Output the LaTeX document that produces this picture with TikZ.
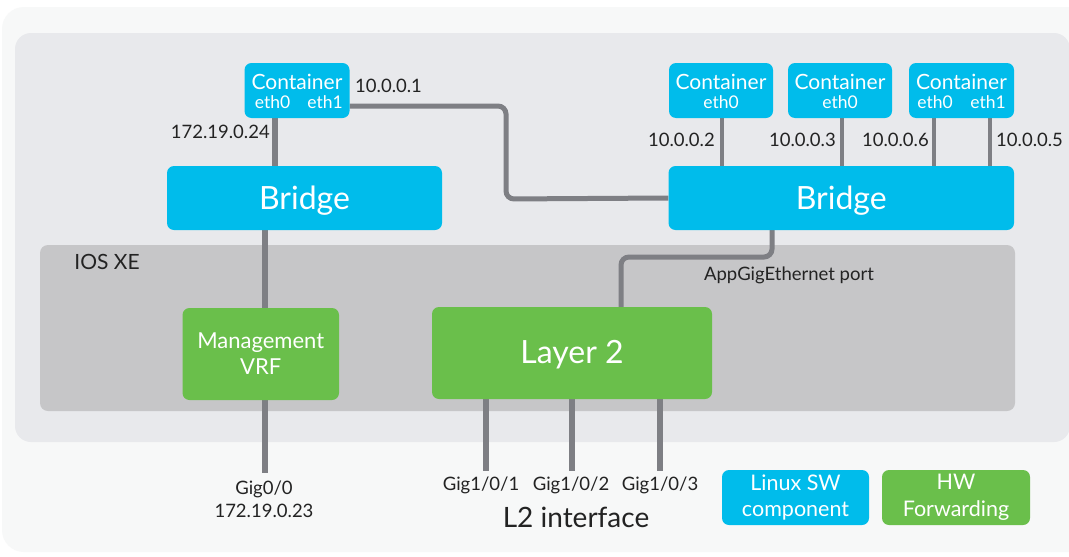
\documentclass[tikz,border=0pt]{standalone}
\usepackage{fontspec}
\setmainfont{Lato}
\definecolor{cisblue}{HTML}{00BCEB}
\definecolor{cisgreen}{HTML}{6ABF4B}
\definecolor{wire}{HTML}{7E7F84}
\definecolor{iosgray}{HTML}{C6C6C8}
\definecolor{panelgray}{HTML}{E8E9EC}
\definecolor{outerbg}{HTML}{F7F8F8}
\definecolor{txt}{HTML}{232323}
\newcommand{\fs}[1]{\fontsize{#1}{#1}\selectfont}
\newcommand{\lowered}[2]{\raisebox{-#1}[\height][\depth]{#2}}
\pgfdeclarelayer{bglayer}
\pgfdeclarelayer{wirelayer}
\pgfsetlayers{bglayer,wirelayer,main}
\begin{document}
\begin{tikzpicture}[x=1pt,y=-1pt,
  swbox/.style={rounded corners=7pt, inner sep=0pt, fill=cisblue, text=white, align=center},
  hwbox/.style={rounded corners=7pt, inner sep=0pt, fill=cisgreen, text=white, align=center},
  lbl/.style={inner sep=0pt, text=txt, font=\fs{18.5}},
  intext/.style={inner sep=0pt, text=white},
  thickwire/.style={draw=wire, line width=6.5pt},
  midwire/.style={draw=wire, line width=5pt, rounded corners=8pt},
  thinwire/.style={draw=wire, line width=3.8pt}]
\useasboundingbox (0,0) rectangle (1069,557);
% backgrounds
\begin{pgfonlayer}{bglayer}
\fill[white] (0,0) rectangle (1069,557);
\fill[outerbg, rounded corners=22pt] (2,7) rectangle (1100,552);
\fill[panelgray, rounded corners=16pt] (15,33) rectangle (1070,442);
\fill[iosgray, rounded corners=8pt] (40,245) rectangle (1015,411);
\end{pgfonlayer}
\node[lbl, font=\fs{21}] (ios) at (107,262) {IOS XE};

% containers
\node[swbox, minimum width=105pt, minimum height=55pt] (c1) at (297,90.5) {};
\node[swbox, minimum width=104pt, minimum height=55pt] (c2) at (721,90.5) {};
\node[swbox, minimum width=104pt, minimum height=55pt] (c3) at (840,90.5) {};
\node[swbox, minimum width=105pt, minimum height=55pt] (c4) at (961.5,90.5) {};
\node[intext, font=\fs{21}] (c1t) at (297,82) {Container};
\node[intext, font=\fs{17.5}] (c1a) at (272.5,102.5) {eth0};
\node[intext, font=\fs{17.5}] (c1b) at (325,102.5) {eth1};
\node[intext, font=\fs{21}] (c2t) at (721,82) {Container};
\node[intext, font=\fs{17.5}] (c2a) at (721,102.5) {eth0};
\node[intext, font=\fs{21}] (c3t) at (840,82) {Container};
\node[intext, font=\fs{17.5}] (c3a) at (840,102.5) {eth0};
\node[intext, font=\fs{21}] (c4t) at (961.5,82) {Container};
\node[intext, font=\fs{17.5}] (c4a) at (935,102.5) {eth0};
\node[intext, font=\fs{17.5}] (c4b) at (988,102.5) {eth1};

% bridges
\node[swbox, minimum width=275pt, minimum height=64pt, font=\fs{32}] (bL) at (304.5,198) {\lowered{3pt}{Bridge}};
\node[swbox, minimum width=345.5pt, minimum height=64pt, font=\fs{32}] (bR) at (841.25,198) {\lowered{3pt}{Bridge}};

% forwarding
\node[hwbox, minimum width=156.5pt, minimum height=92pt, font=\fs{22}] (vrf) at (260.75,354) {Management\\[4pt]VRF};
\node[hwbox, minimum width=280pt, minimum height=92pt, font=\fs{32}] (l2) at (572,353) {\lowered{2pt}{Layer 2}};

% legend
\node[swbox, minimum width=147pt, minimum height=55pt, font=\fs{21.5}] (legsw) at (795.5,497.5) {Linux SW\\[5pt]component};
\node[hwbox, minimum width=148pt, minimum height=55pt, font=\fs{21.5}] (leghw) at (956,497.5) {HW\\[5pt]Forwarding};

% port coordinates
\coordinate (c1e0) at (275,118);
\coordinate (c1e1) at (349.5,106);
\coordinate (c2e0) at (722,118);
\coordinate (c3e0) at (842,118);
\coordinate (c4e0) at (934,118);
\coordinate (c4e1) at (990,118);
\coordinate (bLout) at (265,230);
\coordinate (bRout) at (772,230);
\coordinate (l2in) at (621,307);
\coordinate (g0) at (265,473);
\coordinate (g1) at (486,471);
\coordinate (g2) at (572,471);
\coordinate (g3) at (660,471);

\begin{pgfonlayer}{wirelayer}
\draw[thickwire] (c1e0) -- (c1e0 |- bL.north);
\draw[midwire] (c1e1) -- (506,106) -- (506,199) -- (bR.west);
\draw[thinwire] (c2e0) -- (c2e0 |- bR.north);
\draw[thinwire] (c3e0) -- (c3e0 |- bR.north);
\draw[thinwire] (c4e0) -- (c4e0 |- bR.north);
\draw[thinwire] (c4e1) -- (c4e1 |- bR.north);
\draw[thickwire] (bLout) -- (bLout |- vrf.north);
\draw[midwire] (bRout) -- (772,257) -- (621,257) -- (l2in);
\draw[thickwire] (bLout |- vrf.south) -- (g0);
\draw[thickwire] (g1 |- l2.south) -- (g1);
\draw[thickwire] (g2 |- l2.south) -- (g2);
\draw[thickwire] (g3 |- l2.south) -- (g3);
\end{pgfonlayer}

% labels
\node[lbl, anchor=east] (ip24) at (270,132) {172.19.0.24};
\node[lbl, anchor=west] (ip1) at (355,86) {10.0.0.1};
\node[lbl, anchor=east] (ip2) at (715,140) {10.0.0.2};
\node[lbl, anchor=east] (ip3) at (836,140) {10.0.0.3};
\node[lbl, anchor=east] (ip6) at (929,140) {10.0.0.6};
\node[lbl, anchor=west] (ip5) at (996,140) {10.0.0.5};
\node[lbl] (app) at (789,275) {AppGigEthernet port};
\node[lbl] (gig0) at (264,489) {Gig0/0};
\node[lbl] (ip23) at (264,511) {172.19.0.23};
\node[lbl] (gig1) at (481,485) {Gig1/0/1};
\node[lbl] (gig2) at (571,485) {Gig1/0/2};
\node[lbl] (gig3) at (660,485) {Gig1/0/3};
\node[lbl, font=\fs{28}] (l2if) at (576,517) {L2 interface};
\end{tikzpicture}
\end{document}
